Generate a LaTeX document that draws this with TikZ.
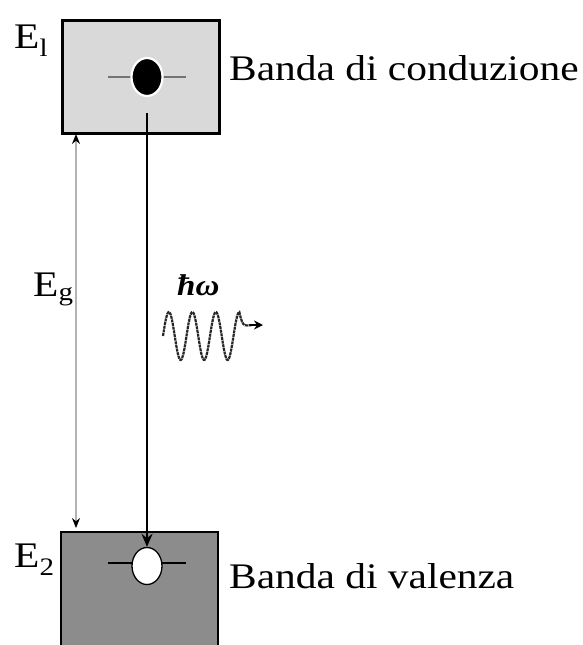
\documentclass[tikz,border=0pt]{standalone}
\usepackage{fontspec}
\setmainfont{Liberation Serif}
\usetikzlibrary{arrows.meta,shapes.geometric}
\begin{document}
\begin{tikzpicture}[x=1pt,y=-1pt,
  lbl/.style={font=\fontsize{36}{40}\selectfont, inner sep=0pt, xscale=1.15},
  band/.style={draw=black, line width=2.6pt, minimum width=157pt, anchor=north west, inner sep=0pt}]
\useasboundingbox (0,0) rectangle (582,645);
% boxes
\node[band, fill=black!15, minimum height=113pt] (cb) at (61,19) {};
\path[fill=black!45] (61,532) rectangle (218,650);
\draw[line width=2.6pt] (61,650) -- (61,532) -- (218,532) -- (218,650);
\coordinate (vbtop) at (147,532);
% electron
\draw[black!55, line width=2pt] (108,77) -- (186,77);
\node[ellipse, fill=black, draw=white, line width=2.2pt, minimum width=31pt, minimum height=38pt, inner sep=0pt] (el) at (147,77) {};
% hole
\draw[black, line width=2pt] (108,563) -- (186,563);
\node[ellipse, fill=white, draw=black, line width=1.3pt, minimum width=30pt, minimum height=37pt, inner sep=0pt] (ho) at (147,566) {};
% transition arrow
\coordinate (tstart) at (147,113);
\draw[line width=2.8pt, -{Stealth[length=13pt,width=11pt]}] (tstart) -- (ho.north);
% Eg arrow
\coordinate (ega) at (76,134);
\coordinate (egb) at (76,528);
\draw[black!30, line width=1.4pt, {Stealth[length=10pt,width=8pt,black]}-{Stealth[length=10pt,width=8pt,black]}] (ega) -- (egb);
% labels
\node[lbl, anchor=base west] (e1) at (14,48) {E\textsubscript{l}};
\node[lbl, anchor=base west] (eg) at (33,296) {E\textsubscript{g}};
\node[lbl, anchor=base west] (e2) at (14,567) {E\textsubscript{2}};
\node[lbl, anchor=base west] (cbl) at (229,80) {Banda di conduzione};
\node[lbl, anchor=base west] (vbl) at (229,588) {Banda di valenza};
\node[font=\fontsize{30}{32}\selectfont\bfseries\itshape, anchor=base west, inner sep=0pt, xscale=1.1] (hw) at (177,295) {\char"0127\char"03C9};
% photon wave
\draw[line width=2.2pt, black!85, dash pattern=on 3pt off 0.7pt]
  plot[domain=0:3.25, samples=120] ({163+\x*23.5},{336-24*sin(\x*360)})
  .. controls (243,330) and (246,325) .. (252,325);
\coordinate (wtip) at (263,325);
\draw[line width=2.2pt, -{Stealth[length=9pt,width=9pt]}] (250,325) -- (wtip);
\end{tikzpicture}
\end{document}
